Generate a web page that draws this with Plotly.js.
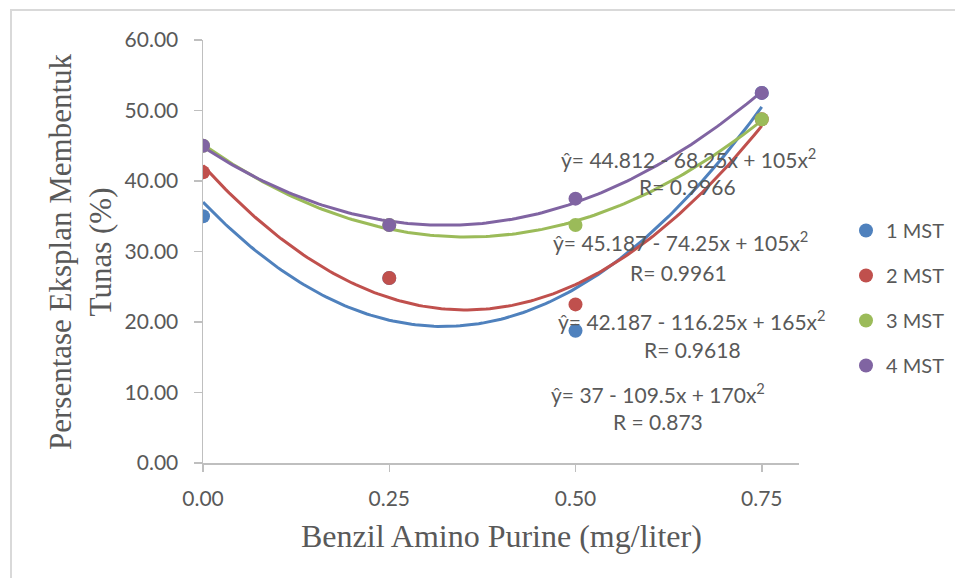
<!DOCTYPE html>
<html>
<head>
<meta charset="utf-8">
<script src="https://cdn.plot.ly/plotly-3.0.1.min.js"></script>
<style>
  html, body { margin:0; padding:0; background:#ffffff; overflow:hidden; }
  #frame { position:absolute; left:10px; top:9px; width:2000px; height:2000px;
           border-top:2px solid #d9d9d9; border-left:2px solid #d9d9d9; }
  #chart { position:absolute; left:0; top:0; width:955px; height:578px; }
</style>
</head>
<body>
<div id="frame"></div>
<div id="chart"></div>
<script>
// ---- data ----
const doses = [0, 0.25, 0.5, 0.75];
const seriesNames = ['1 MST', '2 MST', '3 MST', '4 MST'];
const mst1 = [35.00, 26.25, 18.75, 52.50];
const mst2 = [41.25, 26.25, 22.50, 48.75];
const mst3 = [45.00, 33.75, 33.75, 48.75];
const mst4 = [45.00, 33.75, 37.50, 52.50];
// polynomial trendline coefficients (a + b x + c x^2), as printed on the chart
const coef1 = [37, -109.5, 170];
const coef2 = [42.187, -116.25, 165];
const coef3 = [45.187, -74.25, 105];
const coef4 = [44.812, -68.25, 105];
const eqLabels = [
  'ŷ= 37 - 109.5x + 170x<sup>2</sup>',
  'ŷ= 42.187 - 116.25x + 165x<sup>2</sup>',
  'ŷ= 45.187 - 74.25x + 105x<sup>2</sup>',
  'ŷ= 44.812 - 68.25x + 105x<sup>2</sup>'
];
const rLabels = ['R = 0.873', 'R= 0.9618', 'R= 0.9961', 'R= 0.9966'];
const xTickVals = [0, 0.25, 0.5, 0.75];
const xTickText = ['0.00', '0.25', '0.50', '0.75'];

// ---- styling ----
const colors = ['#4F81BD', '#C0504D', '#9BBB59', '#8064A2'];
const values = [mst1, mst2, mst3, mst4];
const coefs = [coef1, coef2, coef3, coef4];
const SANS = 'Lato, "Open Sans", sans-serif';
const SERIF = '"Liberation Serif", "Times New Roman", serif';
const TXT = '#595959';

// trendline evaluation grid over the data span
const xs = [];
for (let i = 0; i <= 150; i++) xs.push(0.75 * i / 150);

const traces = [];
coefs.forEach((c, k) => {
  traces.push({
    x: xs, y: xs.map(v => c[0] + c[1] * v + c[2] * v * v),
    mode: 'lines', line: {color: colors[k], width: 3},
    showlegend: false, hoverinfo: 'skip'
  });
});
values.forEach((v, k) => {
  traces.push({
    x: doses, y: v, name: seriesNames[k],
    mode: 'markers', marker: {color: colors[k], size: 14},
    legendgroup: 'g' + k
  });
});

// pixel helpers for plot area (l=203, r=799, t=40, b=463)
const L = 203, R = 799, T = 40, B = 463;
const px = p => (p - L) / (R - L);
const py = p => (B - p) / (B - T);

const eqPos = [ // [x center px, eq y px, R x px, R y px]
  [658, 393, 658, 421],
  [692, 320, 692, 349],
  [680, 241, 678, 272],
  [688, 158, 687, 186]
];
const annotations = [];
eqPos.forEach((p, k) => {
  annotations.push({xref:'paper', yref:'paper', x:px(p[0]), y:py(p[1]), text:eqLabels[k],
    showarrow:false, xanchor:'center', yanchor:'middle', font:{family:SANS, size:21, color:TXT}});
  annotations.push({xref:'paper', yref:'paper', x:px(p[2]), y:py(p[3]), text:rLabels[k],
    showarrow:false, xanchor:'center', yanchor:'middle', font:{family:SANS, size:21, color:TXT}});
});
// axis titles
annotations.push({xref:'paper', yref:'paper', x:px(501), y:py(536), text:'Benzil Amino Purine (mg/liter)',
  showarrow:false, xanchor:'center', yanchor:'middle', font:{family:SERIF, size:32, color:TXT}});
annotations.push({xref:'paper', yref:'paper', x:px(80), y:py(252), textangle:-90,
  text:'Persentase Eksplan Membentuk<br>Tunas (%)',
  showarrow:false, xanchor:'center', yanchor:'middle', font:{family:SERIF, size:31, color:TXT}});

const layout = {
  width: 955, height: 578,
  margin: {l: L, r: 955 - R, t: T, b: 578 - B, pad: 0, autoexpand: false},
  paper_bgcolor: 'rgba(0,0,0,0)', plot_bgcolor: 'rgba(0,0,0,0)',
  showlegend: true,
  legend: {x: px(846), y: py(211), xanchor:'left', yanchor:'top',
    font:{family:SANS, size:20, color:TXT}, tracegroupgap: 16,
    bgcolor:'rgba(0,0,0,0)', itemclick:false},
  xaxis: {
    range: [0, 0.8], tickvals: xTickVals, ticktext: xTickText,
    showline: true, linecolor: '#bfbfbf', linewidth: 1.5,
    ticks: 'outside', ticklen: 7, tickcolor: '#bfbfbf', tickwidth: 1.5,
    showgrid: false, zeroline: false,
    tickfont: {family: SANS, size: 21, color: TXT}, ticklabelstandoff: 9
  },
  yaxis: {
    range: [0, 60], dtick: 10, tickformat: '.2f',
    showline: true, linecolor: '#bfbfbf', linewidth: 1.5,
    ticks: 'outside', ticklen: 8, tickcolor: '#bfbfbf', tickwidth: 1.5,
    showgrid: false, zeroline: false,
    tickfont: {family: SANS, size: 21, color: TXT}, ticklabelstandoff: 11
  },
  annotations: annotations
};

Plotly.newPlot('chart', traces, layout, {displayModeBar: false, staticPlot: true});
</script>
</body>
</html>
